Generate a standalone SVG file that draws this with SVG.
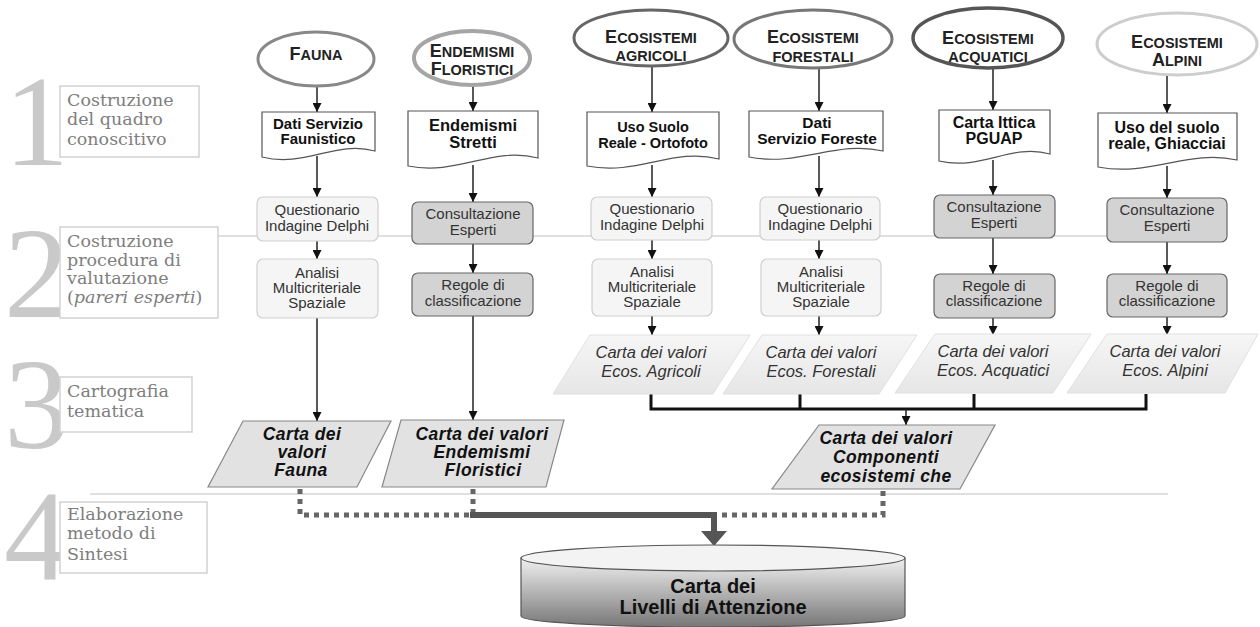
<svg xmlns="http://www.w3.org/2000/svg" width="1260" height="627" viewBox="0 0 1260 627">
<defs>
<style>
.num{font-family:"Liberation Serif",serif;fill:#c9c9c9}
.lab{font-family:"DejaVu Serif",serif;font-size:17.5px;fill:#7e7e7e}
.labbox{fill:#fff;stroke:#d2d2d2;stroke-width:1.5}
.sep{stroke:#d6d6d6;stroke-width:1.5}
.ell{fill:#fff}
.et{font-family:"Liberation Sans",Arial,sans-serif;font-weight:bold;fill:#222;text-anchor:middle}
.big{font-size:18px}
.sm{font-size:14.5px}
.doc{fill:#fff;stroke:#555;stroke-width:1.2}
.dt{font-family:"Liberation Sans",Arial,sans-serif;font-weight:bold;fill:#111;text-anchor:middle}
.lbox{fill:#f5f5f5;stroke:#cfcfcf;stroke-width:1.2}
.dbox{fill:#d3d3d3;stroke:#666;stroke-width:1.2}
.bt{font-family:"Liberation Sans",Arial,sans-serif;font-size:15px;fill:#333;text-anchor:middle}
.par{fill:url(#pg);stroke:#e0e0e0;stroke-width:1}
.pt{font-family:"Liberation Sans",Arial,sans-serif;font-style:italic;font-size:16.5px;fill:#333;text-anchor:middle}
.par2{fill:#e2e2e2;stroke:#888;stroke-width:1.2}
.pt2{font-family:"Liberation Sans",Arial,sans-serif;font-style:italic;font-weight:bold;font-size:17.5px;letter-spacing:0.4px;fill:#111;text-anchor:middle}
.ln{fill:none;stroke:#222;stroke-width:1.5}
.bus{fill:none;stroke:#111;stroke-width:3}
.dot{fill:none;stroke:#666;stroke-width:5;stroke-dasharray:5 5}
.solid{fill:none;stroke:#555;stroke-width:6}
</style>
<marker id="ah" viewBox="0 0 10 10" refX="10" refY="5" markerWidth="9" markerHeight="9" markerUnits="userSpaceOnUse" orient="auto"><path d="M0,0 L10,5 L0,10 z" fill="#111"/></marker>
<linearGradient id="pg" x1="0" y1="0" x2="0" y2="1"><stop offset="0" stop-color="#f6f6f6"/><stop offset="1" stop-color="#e6e6e6"/></linearGradient>
<linearGradient id="cyl" x1="0" y1="0" x2="0" y2="1"><stop offset="0" stop-color="#f0f0f0"/><stop offset="1" stop-color="#777"/></linearGradient>
</defs>
<rect width="1260" height="627" fill="#fff"/>

<g id="separators">
<line class="sep" x1="218" y1="236" x2="1168" y2="236"/>
<line class="sep" x1="90" y1="494" x2="1168" y2="494"/>
</g>

<g id="phase1">
<text class="num" x="4" y="165" font-size="130">1</text>
<rect class="labbox" x="60" y="86" width="139" height="71"/>
<text class="lab" x="67" y="106">Costruzione</text>
<text class="lab" x="67" y="125">del quadro</text>
<text class="lab" x="67" y="145">conoscitivo</text>
</g>
<g id="phase2">
<text class="num" x="4" y="317" font-size="130">2</text>
<rect class="labbox" x="60" y="227" width="158" height="91"/>
<text class="lab" x="67" y="247">Costruzione</text>
<text class="lab" x="67" y="266">procedura di</text>
<text class="lab" x="67" y="284">valutazione</text>
<text class="lab" x="67" y="303">(<tspan font-style="italic">pareri esperti</tspan>)</text>
</g>
<g id="phase3">
<text class="num" x="4" y="448" font-size="130">3</text>
<rect class="labbox" x="60" y="377" width="132" height="55"/>
<text class="lab" x="67" y="397">Cartografia</text>
<text class="lab" x="67" y="417">tematica</text>
</g>
<g id="phase4">
<text class="num" x="4" y="580" font-size="130">4</text>
<rect class="labbox" x="60" y="502" width="147" height="71"/>
<text class="lab" x="67" y="520">Elaborazione</text>
<text class="lab" x="67" y="539">metodo di</text>
<text class="lab" x="67" y="560">Sintesi</text>
</g>

<g id="connectors">
<path class="ln" d="M317,87 V112" marker-end="url(#ah)"/>
<path class="ln" d="M473,86 V111" marker-end="url(#ah)"/>
<path class="ln" d="M652,67 V112" marker-end="url(#ah)"/>
<path class="ln" d="M819,68 V111" marker-end="url(#ah)"/>
<path class="ln" d="M993,68 V110" marker-end="url(#ah)"/>
<path class="ln" d="M1167,75 V113" marker-end="url(#ah)"/>

<path class="ln" d="M317,156 V197" marker-end="url(#ah)"/>
<path class="ln" d="M473,165 V202" marker-end="url(#ah)"/>
<path class="ln" d="M652,165 V197" marker-end="url(#ah)"/>
<path class="ln" d="M819,156 V197" marker-end="url(#ah)"/>
<path class="ln" d="M993,160 V195" marker-end="url(#ah)"/>
<path class="ln" d="M1167,166 V198" marker-end="url(#ah)"/>

<path class="ln" d="M317,241 V259" marker-end="url(#ah)"/>
<path class="ln" d="M473,244 V273" marker-end="url(#ah)"/>
<path class="ln" d="M652,240 V259" marker-end="url(#ah)"/>
<path class="ln" d="M819,240 V259" marker-end="url(#ah)"/>
<path class="ln" d="M993,238 V274" marker-end="url(#ah)"/>
<path class="ln" d="M1167,242 V274" marker-end="url(#ah)"/>

<path class="ln" d="M317,318 V421" marker-end="url(#ah)"/>
<path class="ln" d="M473,316 V420" marker-end="url(#ah)"/>
<path class="ln" d="M652,316 V335" marker-end="url(#ah)"/>
<path class="ln" d="M819,316 V335" marker-end="url(#ah)"/>
<path class="ln" d="M993,318 V335" marker-end="url(#ah)"/>
<path class="ln" d="M1167,317 V335" marker-end="url(#ah)"/>

<path class="bus" d="M651,394 V409 H1146 V394 M800,394 V409 M974,394 V409"/>
<path class="ln" d="M906,409 V425" marker-end="url(#ah)"/>

<path class="dot" d="M300,489 V515 H470"/>
<path class="dot" d="M473,489 V512"/>
<path class="dot" d="M883,491 V515 H720"/>
<path class="solid" d="M470,515 H714 V531"/>
<polygon points="701,531 727,531 714,546" fill="#555"/>
</g>

<g id="n-fauna">
<ellipse class="ell" cx="316" cy="59" rx="58" ry="27" stroke="#888" stroke-width="3"/>
<text class="et" x="316" y="60"><tspan class="big">F</tspan><tspan class="sm">AUNA</tspan></text>
</g>
<g id="n-endemismi">
<ellipse class="ell" cx="472" cy="58" rx="58" ry="27" stroke="#a5a5a5" stroke-width="4"/>
<text class="et" x="472" y="57"><tspan class="big">E</tspan><tspan class="sm">NDEMISMI</tspan></text>
<text class="et" x="472" y="75"><tspan class="big">F</tspan><tspan class="sm">LORISTICI</tspan></text>
</g>
<g id="n-agricoli">
<ellipse class="ell" cx="651" cy="38" rx="77" ry="28" stroke="#666" stroke-width="3"/>
<text class="et" x="651" y="43"><tspan class="big">E</tspan><tspan class="sm">COSISTEMI</tspan></text>
<text class="et sm" x="651" y="61">AGRICOLI</text>
</g>
<g id="n-forestali">
<ellipse class="ell" cx="813" cy="39" rx="79" ry="29" stroke="#777" stroke-width="3"/>
<text class="et" x="813" y="43"><tspan class="big">E</tspan><tspan class="sm">COSISTEMI</tspan></text>
<text class="et sm" x="813" y="62">FORESTALI</text>
</g>
<g id="n-acquatici">
<ellipse class="ell" cx="988" cy="38" rx="75" ry="30" stroke="#555" stroke-width="3.5"/>
<text class="et" x="988" y="44"><tspan class="big">E</tspan><tspan class="sm">COSISTEMI</tspan></text>
<text class="et sm" x="988" y="62">ACQUATICI</text>
</g>
<g id="n-alpini">
<ellipse class="ell" cx="1177" cy="44" rx="80" ry="31" stroke="#cdcdcd" stroke-width="3"/>
<text class="et" x="1177" y="48"><tspan class="big">E</tspan><tspan class="sm">COSISTEMI</tspan></text>
<text class="et" x="1177" y="66"><tspan class="big">A</tspan><tspan class="sm">LPINI</tspan></text>
</g>

<g id="d-fauna">
<path class="doc" d="M262,112 H375 V151 C335,140 305,168 262,157 Z"/>
<text class="dt" x="318" y="129" font-size="15">Dati Servizio</text>
<text class="dt" x="318" y="144" font-size="15">Faunistico</text>
</g>
<g id="d-endemismi">
<path class="doc" d="M408,111 H538 V158 C492,146 458,176 408,166 Z"/>
<text class="dt" x="473" y="131" font-size="16.5">Endemismi</text>
<text class="dt" x="473" y="148" font-size="16.5">Stretti</text>
</g>
<g id="d-agricoli">
<path class="doc" d="M587,112 H719 V159 C673,147 638,176 587,166 Z"/>
<text class="dt" x="653" y="132" font-size="14.5">Uso Suolo</text>
<text class="dt" x="653" y="148" font-size="14.5">Reale - Ortofoto</text>
</g>
<g id="d-forestali">
<path class="doc" d="M749,111 H883 V151 C836,140 800,167 749,157 Z"/>
<text class="dt" x="817" y="128" font-size="15.5">Dati</text>
<text class="dt" x="817" y="144" font-size="15.5">Servizio Foreste</text>
</g>
<g id="d-acquatici">
<path class="doc" d="M939,110 H1050 V154 C1011,143 982,171 939,161 Z"/>
<text class="dt" x="994" y="128" font-size="16">Carta Ittica</text>
<text class="dt" x="994" y="144" font-size="16">PGUAP</text>
</g>
<g id="d-alpini">
<path class="doc" d="M1098,113 H1237 V160 C1188,149 1151,177 1098,167 Z"/>
<text class="dt" x="1167" y="133" font-size="16">Uso del suolo</text>
<text class="dt" x="1167" y="149" font-size="16">reale, Ghiacciai</text>
</g>

<g id="b-fauna-q">
<rect class="lbox" x="257" y="197" width="121" height="44" rx="6"/>
<text class="bt" x="317" y="215">Questionario</text>
<text class="bt" x="317" y="231">Indagine Delphi</text>
</g>
<g id="b-fauna-a">
<rect class="lbox" x="257" y="259" width="121" height="59" rx="6"/>
<text class="bt" x="317" y="278">Analisi</text>
<text class="bt" x="317" y="293">Multicriteriale</text>
<text class="bt" x="317" y="308">Spaziale</text>
</g>
<g id="b-end-c">
<rect class="dbox" x="412" y="202" width="121" height="42" rx="6"/>
<text class="bt" x="473" y="219">Consultazione</text>
<text class="bt" x="473" y="235">Esperti</text>
</g>
<g id="b-end-r">
<rect class="dbox" x="412" y="273" width="121" height="43" rx="6"/>
<text class="bt" x="473" y="290">Regole di</text>
<text class="bt" x="473" y="306">classificazione</text>
</g>
<g id="b-agr-q">
<rect class="lbox" x="591" y="197" width="121" height="43" rx="6"/>
<text class="bt" x="652" y="214">Questionario</text>
<text class="bt" x="652" y="230">Indagine Delphi</text>
</g>
<g id="b-agr-a">
<rect class="lbox" x="592" y="259" width="120" height="57" rx="6"/>
<text class="bt" x="652" y="277">Analisi</text>
<text class="bt" x="652" y="292">Multicriteriale</text>
<text class="bt" x="652" y="307">Spaziale</text>
</g>
<g id="b-for-q">
<rect class="lbox" x="760" y="197" width="120" height="43" rx="6"/>
<text class="bt" x="820" y="214">Questionario</text>
<text class="bt" x="820" y="230">Indagine Delphi</text>
</g>
<g id="b-for-a">
<rect class="lbox" x="761" y="259" width="120" height="57" rx="6"/>
<text class="bt" x="821" y="277">Analisi</text>
<text class="bt" x="821" y="292">Multicriteriale</text>
<text class="bt" x="821" y="307">Spaziale</text>
</g>
<g id="b-acq-c">
<rect class="dbox" x="934" y="195" width="121" height="43" rx="6"/>
<text class="bt" x="994" y="212">Consultazione</text>
<text class="bt" x="994" y="228">Esperti</text>
</g>
<g id="b-acq-r">
<rect class="dbox" x="934" y="274" width="121" height="44" rx="6"/>
<text class="bt" x="994" y="291">Regole di</text>
<text class="bt" x="994" y="306">classificazione</text>
</g>
<g id="b-alp-c">
<rect class="dbox" x="1107" y="198" width="120" height="44" rx="6"/>
<text class="bt" x="1167" y="215">Consultazione</text>
<text class="bt" x="1167" y="231">Esperti</text>
</g>
<g id="b-alp-r">
<rect class="dbox" x="1107" y="274" width="120" height="43" rx="6"/>
<text class="bt" x="1167" y="291">Regole di</text>
<text class="bt" x="1167" y="306">classificazione</text>
</g>

<g id="p-agricoli">
<polygon class="par" points="590,335 750,335 713,394 553,394"/>
<text class="pt" x="651" y="358">Carta dei valori</text>
<text class="pt" x="651" y="377">Ecos. Agricoli</text>
</g>
<g id="p-forestali">
<polygon class="par" points="762,335 917,335 879,394 723,394"/>
<text class="pt" x="821" y="358">Carta dei valori</text>
<text class="pt" x="821" y="377">Ecos. Forestali</text>
</g>
<g id="p-acquatici">
<polygon class="par" points="935,334 1091,334 1053,393 895,393"/>
<text class="pt" x="993" y="357">Carta dei valori</text>
<text class="pt" x="993" y="376">Ecos. Acquatici</text>
</g>
<g id="p-alpini">
<polygon class="par" points="1107,334 1258,334 1225,393 1067,393"/>
<text class="pt" x="1165" y="357">Carta dei valori</text>
<text class="pt" x="1165" y="376">Ecos. Alpini</text>
</g>

<g id="p-fauna">
<polygon class="par2" points="243,421 391,421 357,487 208,487"/>
<text class="pt2" x="302" y="440">Carta dei</text>
<text class="pt2" x="302" y="458">valori</text>
<text class="pt2" x="301" y="476">Fauna</text>
</g>
<g id="p-endemismi">
<polygon class="par2" points="401,420 564,420 546,487 382,487"/>
<text class="pt2" x="482" y="440">Carta dei valori</text>
<text class="pt2" x="482" y="458">Endemismi</text>
<text class="pt2" x="483" y="476">Floristici</text>
</g>
<g id="p-componenti">
<polygon class="par2" points="819,425 995,425 960,489 772,489"/>
<text class="pt2" x="886" y="444">Carta dei valori</text>
<text class="pt2" x="886" y="463">Componenti</text>
<text class="pt2" x="886" y="482">ecosistemi che</text>
</g>

<g id="n-cylinder">
<path d="M521,558 V616 A192,11 0 0 0 905,616 V558 Z" fill="url(#cyl)" stroke="#555" stroke-width="1.2"/>
<ellipse cx="713" cy="558" rx="192" ry="13" fill="#f3f3f3" stroke="#555" stroke-width="1.2"/>
<text class="dt" x="713" y="593" font-size="20">Carta dei</text>
<text class="dt" x="713" y="614" font-size="20">Livelli di Attenzione</text>
</g>
</svg>
